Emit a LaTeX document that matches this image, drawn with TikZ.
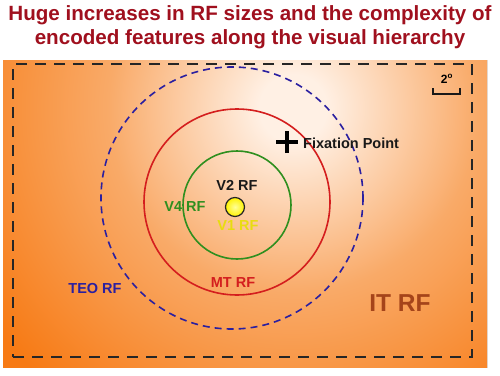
\documentclass[tikz,border=0pt]{standalone}
\usepackage{fontspec}
\setmainfont{Liberation Sans}
\definecolor{titlered}{HTML}{A0101E}
\definecolor{bgorange}{HTML}{F77A14}
\definecolor{bglight}{HTML}{FFF0E4}
\definecolor{bgmid}{HTML}{F9AA68}
\definecolor{teoblue}{HTML}{2A1FA0}
\definecolor{mtred}{HTML}{D41E1E}
\definecolor{v4green}{HTML}{2F8F1F}
\definecolor{v1yellow}{HTML}{E8DC10}
\definecolor{itbrown}{HTML}{A5441A}
\pgfdeclareradialshading{bgshade}{\pgfpoint{0bp}{0bp}}{color(0bp)=(bglight); color(2bp)=(bglight); color(11bp)=(bgmid); color(22bp)=(bgorange); color(50bp)=(bgorange)}
\begin{document}
\begin{tikzpicture}[x=1pt,y=-1pt,
  lbl/.style={font=\bfseries\fontsize{14.5}{17}\selectfont, inner sep=0pt},
  ring/.style={circle, draw, line width=1.6pt, inner sep=0pt}]
\useasboundingbox (0,0) rectangle (500,375);
\fill[white] (0,0) rectangle (500,375);
% background
\begin{scope}
\clip (3,60) rectangle (487,367);
\fill[shading=bgshade] (293,108) circle (420);
\end{scope}
% title
\node[font=\bfseries\fontsize{20.6}{23.5}\selectfont, text=titlered, align=center] (title) at (250,27)
  {Huge increases in RF sizes and the complexity of\\encoded features along the visual hierarchy};
% IT dashed rectangle
\node[draw=black!85, line width=2.8pt, dash pattern=on 11pt off 8pt, minimum width=459pt, minimum height=293pt, inner sep=0pt] (itbox) at (242.5,210.5) {};
% circles
\node[ring, draw=teoblue, dash pattern=on 7pt off 5pt, minimum size=262pt] (teo) at (232,198) {};
\node[ring, draw=mtred, minimum size=186pt] (mt) at (237,202) {};
\node[ring, draw=v4green, minimum size=108pt] (v4) at (237,205) {};
\node[circle, draw=black!85, line width=1.2pt, inner color=yellow!40, outer color=yellow!90!orange, minimum size=19pt, inner sep=0pt] (v1) at (235,207) {};
% labels
\node[lbl, text=black!90] (v2l) at (237,185) {V2 RF};
\node[lbl, text=v4green] (v4l) at (185,207) {V4 RF};
\node[lbl, text=v1yellow] (v1l) at (238,226) {V1 RF};
\node[lbl, text=mtred] (mtl) at (233,283) {MT RF};
\node[lbl, text=teoblue] (teol) at (95,289) {TEO RF};
\node[font=\bfseries\fontsize{24.5}{28}\selectfont, text=itbrown, inner sep=0pt] (itl) at (400,303) {IT RF};
% fixation point
\coordinate (fp) at (287,142);
\draw[line width=3.6pt, black] ([xshift=-11pt]fp) -- ([xshift=11pt]fp);
\draw[line width=3.6pt, black] ([yshift=-11pt]fp) -- ([yshift=11pt]fp);
\node[lbl, anchor=west, text=black!90] (fpl) at (303,143) {Fixation Point};
% scale bar
\coordinate (sb1) at (433,88);
\coordinate (sb2) at (460,88);
\draw[line width=2.4pt, black!90] (sb1) -- ++(0,6) -| (sb2);
\node[font=\bfseries\fontsize{12}{14}\selectfont, inner sep=0pt] (sbl) at (447,79) {2$^{\mathbf{o}}$};
\end{tikzpicture}
\end{document}
